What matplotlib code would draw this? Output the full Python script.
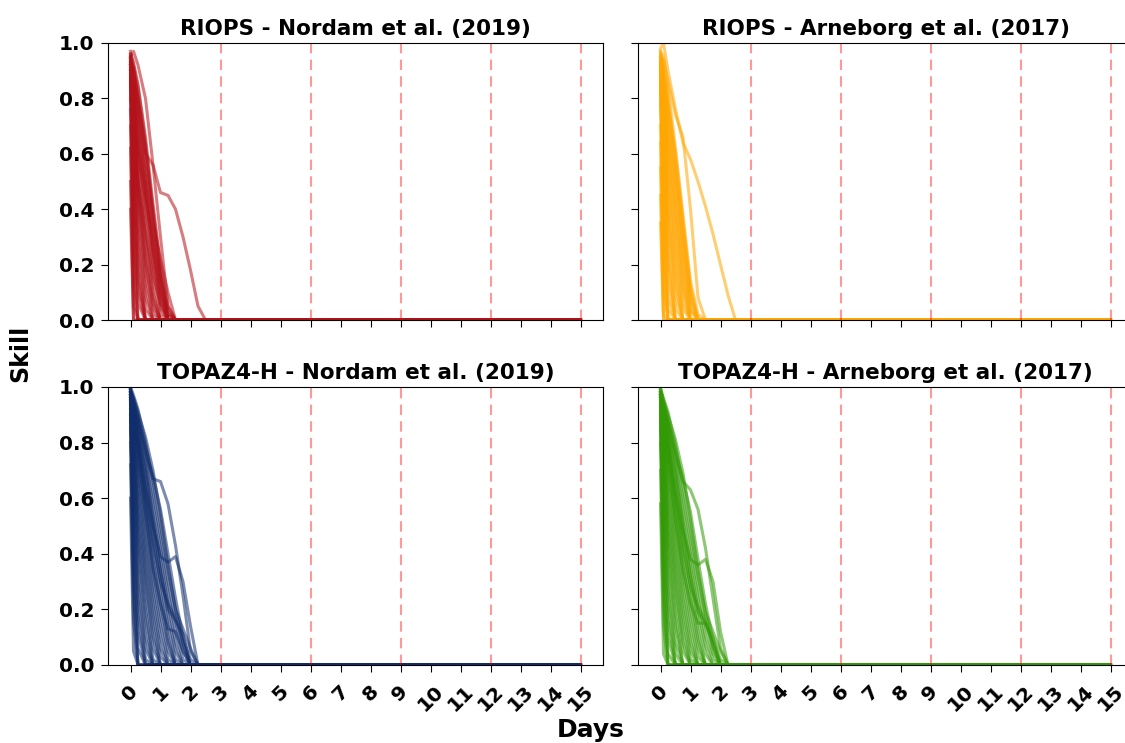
import matplotlib
matplotlib.use("Agg")
import matplotlib.pyplot as plt

plt.rcParams['font.family'] = ['DejaVu Sans']
plt.rcParams['font.weight'] = 'bold'

# time axis of the skill curves (days); every curve is padded with 0 until the last day
days_grid = [0, 0.1, 0.25, 0.5, 0.75, 1.0, 1.25, 1.5, 1.75, 2.0, 2.25, 2.5]
last_day = 15
day_ticks = list(range(0, 16))
check_days = [3, 6, 9, 12, 15]

titles = ["RIOPS - Nordam et al. (2019)", "RIOPS - Arneborg et al. (2017)",
          "TOPAZ4-H - Nordam et al. (2019)", "TOPAZ4-H - Arneborg et al. (2017)"]
colors = ["#b3121a", "#ffa600", "#112e6c", "#329a05"]

riops_nordam = [
    [0.95, 0.97, 0.92, 0.80, 0.56, 0.46, 0.45, 0.40, 0.30, 0.18, 0.05, 0.0],
    [0.93, 0.91, 0.80, 0.60, 0.56, 0.30, 0.05, 0.0],
    [0.96, 0.93, 0.85, 0.66, 0.42, 0.20, 0.03, 0.0],
    [0.92, 0.88, 0.78, 0.58, 0.36, 0.16, 0.02, 0.0],
    [0.94, 0.90, 0.80, 0.62, 0.40, 0.18, 0.0],
    [0.97, 0.92, 0.84, 0.64, 0.38, 0.14, 0.0],
    [0.90, 0.86, 0.74, 0.52, 0.30, 0.12, 0.0],
    [0.92, 0.86, 0.70, 0.46, 0.24, 0.08, 0.0],
    [0.95, 0.88, 0.72, 0.50, 0.28, 0.10, 0.0],
    [0.91, 0.82, 0.62, 0.40, 0.22, 0.06, 0.0],
    [0.93, 0.84, 0.66, 0.42, 0.20, 0.04, 0.0],
    [0.89, 0.78, 0.58, 0.34, 0.14, 0.02, 0.0],
    [0.94, 0.80, 0.56, 0.30, 0.10, 0.0],
    [0.90, 0.74, 0.50, 0.26, 0.08, 0.0],
    [0.88, 0.70, 0.46, 0.20, 0.04, 0.0],
    [0.92, 0.72, 0.44, 0.16, 0.02, 0.0],
    [0.96, 0.76, 0.48, 0.22, 0.06, 0.0],
    [0.86, 0.64, 0.38, 0.12, 0.0],
    [0.90, 0.66, 0.34, 0.08, 0.0],
    [0.94, 0.62, 0.28, 0.04, 0.0],
    [0.88, 0.56, 0.24, 0.0],
    [0.85, 0.48, 0.18, 0.0],
    [0.92, 0.52, 0.14, 0.0],
    [0.80, 0.40, 0.10, 0.0],
    [0.90, 0.36, 0.06, 0.0],
    [0.76, 0.28, 0.0],
    [0.86, 0.22, 0.0],
    [0.70, 0.12, 0.0],
    [0.62, 0.05, 0.0],
    [0.50, 0.0],
    [0.91, 0.80, 0.60, 0.44, 0.30, 0.16, 0.05, 0.0],
    [0.87, 0.80, 0.64, 0.48, 0.26, 0.10, 0.02, 0.0],
    [0.95, 0.90, 0.76, 0.55, 0.35, 0.22, 0.10, 0.0],
    [0.84, 0.70, 0.50, 0.32, 0.16, 0.06, 0.0],
    [0.40, 0.0],
]

riops_arneborg = [
    [0.98, 1.00, 0.90, 0.76, 0.64, 0.58, 0.50, 0.41, 0.31, 0.20, 0.09, 0.0],
    [0.95, 0.94, 0.86, 0.74, 0.66, 0.40, 0.08, 0.0],
    [0.97, 0.92, 0.80, 0.58, 0.34, 0.12, 0.0],
    [0.96, 0.90, 0.76, 0.54, 0.30, 0.08, 0.0],
    [0.94, 0.86, 0.72, 0.50, 0.28, 0.06, 0.0],
    [0.95, 0.88, 0.74, 0.52, 0.26, 0.04, 0.0],
    [0.93, 0.84, 0.68, 0.46, 0.22, 0.03, 0.0],
    [0.92, 0.82, 0.66, 0.42, 0.18, 0.0],
    [0.96, 0.84, 0.64, 0.40, 0.16, 0.0],
    [0.90, 0.78, 0.60, 0.36, 0.12, 0.0],
    [0.94, 0.80, 0.58, 0.32, 0.10, 0.0],
    [0.91, 0.76, 0.54, 0.28, 0.06, 0.0],
    [0.88, 0.72, 0.50, 0.24, 0.04, 0.0],
    [0.93, 0.74, 0.48, 0.20, 0.0],
    [0.90, 0.68, 0.42, 0.16, 0.0],
    [0.86, 0.64, 0.38, 0.12, 0.0],
    [0.92, 0.66, 0.36, 0.08, 0.0],
    [0.89, 0.60, 0.30, 0.04, 0.0],
    [0.84, 0.54, 0.24, 0.0],
    [0.91, 0.56, 0.20, 0.0],
    [0.87, 0.48, 0.14, 0.0],
    [0.82, 0.42, 0.08, 0.0],
    [0.90, 0.40, 0.04, 0.0],
    [0.78, 0.32, 0.0],
    [0.85, 0.26, 0.0],
    [0.70, 0.18, 0.0],
    [0.64, 0.10, 0.0],
    [0.55, 0.02, 0.0],
    [0.45, 0.0],
    [0.97, 0.95, 0.84, 0.62, 0.38, 0.14, 0.02, 0.0],
    [0.93, 0.88, 0.78, 0.60, 0.36, 0.10, 0.0],
    [0.35, 0.0],
]

topaz_nordam = [
    [0.98, 0.95, 0.88, 0.76, 0.67, 0.66, 0.58, 0.43, 0.25, 0.05, 0.0],
    [0.99, 0.93, 0.82, 0.64, 0.50, 0.39, 0.37, 0.39, 0.30, 0.14, 0.0],
    [0.97, 0.90, 0.76, 0.55, 0.35, 0.22, 0.13, 0.12, 0.05, 0.0],
    [1.00, 0.97, 0.92, 0.80, 0.66, 0.50, 0.34, 0.20, 0.08, 0.0],
    [0.99, 0.96, 0.90, 0.78, 0.62, 0.46, 0.30, 0.16, 0.05, 0.0],
    [0.98, 0.95, 0.88, 0.74, 0.58, 0.42, 0.26, 0.12, 0.02, 0.0],
    [0.99, 0.94, 0.86, 0.72, 0.54, 0.38, 0.22, 0.08, 0.0],
    [0.97, 0.93, 0.84, 0.68, 0.50, 0.34, 0.18, 0.05, 0.0],
    [0.98, 0.92, 0.82, 0.64, 0.46, 0.30, 0.14, 0.02, 0.0],
    [0.96, 0.91, 0.80, 0.60, 0.42, 0.26, 0.10, 0.0],
    [0.97, 0.90, 0.78, 0.58, 0.38, 0.22, 0.08, 0.0],
    [0.99, 0.89, 0.76, 0.54, 0.34, 0.18, 0.05, 0.0],
    [0.95, 0.88, 0.72, 0.50, 0.30, 0.14, 0.02, 0.0],
    [0.98, 0.87, 0.70, 0.46, 0.26, 0.10, 0.0],
    [0.96, 0.85, 0.66, 0.42, 0.22, 0.06, 0.0],
    [0.94, 0.83, 0.62, 0.38, 0.18, 0.03, 0.0],
    [0.97, 0.82, 0.58, 0.34, 0.14, 0.0],
    [0.95, 0.80, 0.54, 0.30, 0.10, 0.0],
    [0.93, 0.76, 0.50, 0.26, 0.06, 0.0],
    [0.96, 0.74, 0.46, 0.20, 0.02, 0.0],
    [0.92, 0.70, 0.42, 0.16, 0.0],
    [0.94, 0.66, 0.36, 0.10, 0.0],
    [0.90, 0.62, 0.30, 0.06, 0.0],
    [0.95, 0.58, 0.24, 0.02, 0.0],
    [0.88, 0.52, 0.18, 0.0],
    [0.92, 0.46, 0.12, 0.0],
    [0.85, 0.40, 0.06, 0.0],
    [0.80, 0.32, 0.0],
    [0.90, 0.26, 0.0],
    [0.72, 0.16, 0.0],
    [0.60, 0.05, 0.0],
    [0.98, 0.94, 0.88, 0.78, 0.68, 0.56, 0.40, 0.24, 0.10, 0.02, 0.0],
    [0.97, 0.92, 0.84, 0.70, 0.52, 0.34, 0.20, 0.16, 0.11, 0.0],
    [0.99, 0.96, 0.91, 0.82, 0.70, 0.54, 0.36, 0.20, 0.13, 0.06, 0.0],
    [0.96, 0.90, 0.80, 0.62, 0.44, 0.30, 0.22, 0.17, 0.08, 0.0],
]

topaz_arneborg = [
    [0.97, 0.94, 0.86, 0.75, 0.66, 0.63, 0.56, 0.42, 0.24, 0.06, 0.0],
    [0.98, 0.92, 0.80, 0.62, 0.48, 0.38, 0.36, 0.38, 0.30, 0.12, 0.0],
    [0.96, 0.88, 0.74, 0.52, 0.34, 0.22, 0.15, 0.15, 0.08, 0.0],
    [0.99, 0.96, 0.91, 0.79, 0.64, 0.48, 0.32, 0.18, 0.06, 0.0],
    [1.00, 0.95, 0.89, 0.76, 0.60, 0.44, 0.28, 0.14, 0.04, 0.0],
    [0.98, 0.94, 0.87, 0.73, 0.56, 0.40, 0.24, 0.10, 0.02, 0.0],
    [0.98, 0.93, 0.85, 0.70, 0.52, 0.36, 0.20, 0.07, 0.0],
    [0.97, 0.92, 0.83, 0.66, 0.48, 0.32, 0.16, 0.04, 0.0],
    [0.99, 0.91, 0.81, 0.62, 0.44, 0.28, 0.12, 0.0],
    [0.96, 0.90, 0.79, 0.59, 0.40, 0.24, 0.09, 0.0],
    [0.97, 0.89, 0.77, 0.56, 0.36, 0.20, 0.06, 0.0],
    [0.98, 0.88, 0.74, 0.52, 0.32, 0.16, 0.03, 0.0],
    [0.95, 0.87, 0.71, 0.48, 0.28, 0.12, 0.0],
    [0.97, 0.86, 0.68, 0.44, 0.24, 0.08, 0.0],
    [0.96, 0.84, 0.64, 0.40, 0.20, 0.05, 0.0],
    [0.94, 0.82, 0.60, 0.36, 0.16, 0.02, 0.0],
    [0.97, 0.81, 0.56, 0.32, 0.12, 0.0],
    [0.95, 0.79, 0.52, 0.28, 0.08, 0.0],
    [0.93, 0.75, 0.48, 0.24, 0.05, 0.0],
    [0.96, 0.73, 0.44, 0.18, 0.0],
    [0.92, 0.69, 0.40, 0.14, 0.0],
    [0.94, 0.65, 0.34, 0.08, 0.0],
    [0.90, 0.60, 0.28, 0.04, 0.0],
    [0.95, 0.56, 0.22, 0.0],
    [0.88, 0.50, 0.16, 0.0],
    [0.92, 0.44, 0.10, 0.0],
    [0.85, 0.38, 0.04, 0.0],
    [0.80, 0.30, 0.0],
    [0.90, 0.24, 0.0],
    [0.70, 0.14, 0.0],
    [0.58, 0.04, 0.0],
    [0.98, 0.93, 0.87, 0.77, 0.67, 0.55, 0.38, 0.22, 0.09, 0.02, 0.0],
    [0.97, 0.91, 0.83, 0.69, 0.50, 0.32, 0.19, 0.15, 0.10, 0.0],
    [0.99, 0.95, 0.90, 0.81, 0.69, 0.52, 0.34, 0.19, 0.12, 0.05, 0.0],
    [0.96, 0.89, 0.79, 0.60, 0.42, 0.28, 0.21, 0.16, 0.07, 0.0],
]

panels = [riops_nordam, riops_arneborg, topaz_nordam, topaz_arneborg]

fig = plt.figure(figsize=(11.25, 7.43), dpi=100)
W, H = 1125, 743
# axes boxes in pixels: left, top, width, height
boxes = [(108, 43, 495, 277), (638, 43, 495, 277),
         (108, 387, 495, 278), (638, 387, 495, 278)]

axes = []
for l, t, w, h in boxes:
    axes.append(fig.add_axes([l / W, 1 - (t + h) / H, w / W, h / H]))

for i, ax in enumerate(axes):
    for curve in panels[i]:
        x = days_grid[:len(curve)] + [last_day]
        y = curve + [0.0]
        ax.plot(x, y, color=colors[i], lw=2.2, alpha=0.55)
    for d in check_days:
        ax.axvline(d, color='red', ls=(0, (5, 3)), lw=1.5, alpha=0.4)
    ax.set_xlim(-0.75, 15.75)
    ax.set_ylim(0, 1)
    ax.set_yticks([0, 0.2, 0.4, 0.6, 0.8, 1.0])
    ax.set_xticks(day_ticks)
    ax.set_title(titles[i], fontsize=15.5, fontweight='bold', pad=6)
    ax.tick_params(labelsize=14.5, length=5, pad=5)
    if i in (1, 3):
        ax.set_yticklabels([])
    if i in (0, 1):
        ax.set_xticklabels([])
    else:
        ax.set_xticklabels([str(d) for d in day_ticks], rotation=45)
        ax.tick_params(axis='x', pad=7)

fig.text(0.018, 0.525, "Skill", rotation=90, fontsize=17, fontweight='bold',
         ha='center', va='center')
fig.text(0.525, 0.017, "Days", fontsize=18, fontweight='bold',
         ha='center', va='center')

fig.savefig("out.png", dpi=100)
